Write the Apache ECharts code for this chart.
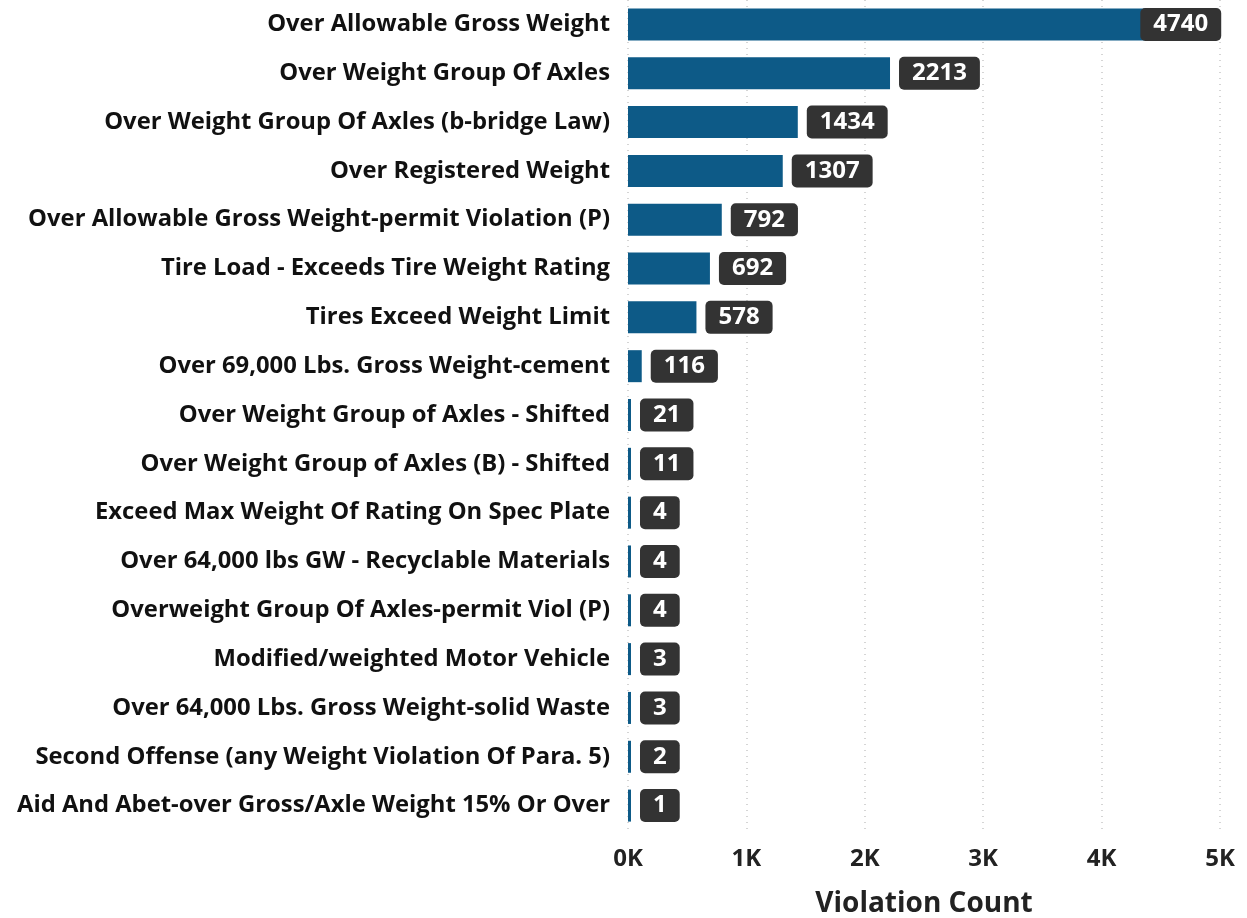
<!DOCTYPE html>
<html><head><meta charset="utf-8">
<script src="https://cdn.jsdelivr.net/npm/echarts@6/dist/echarts.min.js"></script>
<style>html,body{margin:0;padding:0;background:#fff}#c{width:1247px;height:918px}</style>
</head><body><div id="c"></div>
<script>
const categories = [
  "Over Allowable Gross Weight",
  "Over Weight Group Of Axles",
  "Over Weight Group Of Axles (b-bridge Law)",
  "Over Registered Weight",
  "Over Allowable Gross Weight-permit Violation (P)",
  "Tire Load - Exceeds Tire Weight Rating",
  "Tires Exceed Weight Limit",
  "Over 69,000 Lbs. Gross Weight-cement",
  "Over Weight Group of Axles - Shifted",
  "Over Weight Group of Axles (B) - Shifted",
  "Exceed Max Weight Of Rating On Spec Plate",
  "Over 64,000 lbs GW - Recyclable Materials",
  "Overweight Group Of Axles-permit Viol (P)",
  "Modified/weighted Motor Vehicle",
  "Over 64,000 Lbs. Gross Weight-solid Waste",
  "Second Offense (any Weight Violation Of Para. 5)",
  "Aid And Abet-over Gross/Axle Weight 15% Or Over"
];
const violationCounts = [4740, 2213, 1434, 1307, 792, 692, 578, 116, 21, 11, 4, 4, 4, 3, 3, 2, 1];
const xTicks = ["0K", "1K", "2K", "3K", "4K", "5K"];

const FONT = "'Open Sans', 'DejaVu Sans', sans-serif";
const chart = echarts.init(document.getElementById('c'), null, {renderer: 'canvas'});
const seriesData = violationCounts.map((v, i) => {
  const d = {value: v};
  if (i === 0) d.label = {position: 'insideRight', offset: [41, 0]};
  return d;
});
chart.setOption({
  animation: false,
  grid: {left: 628, right: 27, top: 0, bottom: 88, containLabel: false, outerBoundsMode: 'none'},
  xAxis: {
    type: 'value', min: 0, max: 5000, interval: 1000,
    axisLine: {show: false}, axisTick: {show: false},
    splitLine: {show: true, lineStyle: {color: '#c8c8c8', type: [1, 5], width: 1.5}},
    axisLabel: {
      formatter: (v) => xTicks[Math.round(v / 1000)],
      color: '#222', fontFamily: FONT, fontWeight: 'bold', fontSize: 24, margin: 17
    },
    name: 'Violation Count', nameLocation: 'middle', nameGap: 60,
    nameTextStyle: {color: '#222', fontFamily: FONT, fontWeight: 'bold', fontSize: 28}
  },
  yAxis: {
    type: 'category', data: categories, inverse: true,
    axisLine: {show: false}, axisTick: {show: false},
    axisLabel: {color: '#111', fontFamily: FONT, fontWeight: 'bold', fontSize: 23.8, margin: 18}
  },
  series: [{
    type: 'bar', data: seriesData, barWidth: 32, barMinHeight: 3,
    itemStyle: {color: '#0D5A87'},
    label: {
      show: true, position: 'right', distance: 9,
      color: '#fff', fontFamily: FONT, fontWeight: 'bold', fontSize: 24,
      backgroundColor: '#333333', borderRadius: 5, padding: [3, 13, 3, 13], lineHeight: 27
    }
  }]
});
</script></body></html>
